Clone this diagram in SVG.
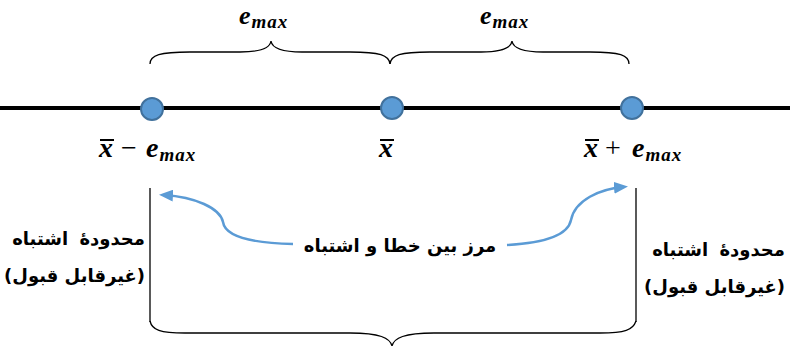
<svg xmlns="http://www.w3.org/2000/svg" width="790" height="346" viewBox="0 0 790 346">
<style>
.m{font-family:"Liberation Serif",serif;font-weight:bold;font-style:italic;fill:#000}
.op{font-family:"Liberation Serif",serif;fill:#000}
.fa{font-family:"DejaVu Sans",sans-serif;font-weight:bold;font-size:18px;fill:#000}
.br{fill:none;stroke:#000;stroke-width:1.3}
.dot{fill:#5B9BD5;stroke:#41719C;stroke-width:2}
.arr{fill:none;stroke:#5B9BD5;stroke-width:2.5}
</style>
<defs>
<marker id="ah" markerWidth="14" markerHeight="12" refX="9" refY="6" orient="auto" markerUnits="userSpaceOnUse" viewBox="0 0 14 12">
<path d="M0,0 L14,6 L0,12 z" fill="#5B9BD5"/>
</marker>
</defs>
<line x1="0" y1="108" x2="790" y2="108" stroke="#000" stroke-width="4"/>
<g id="braces">
<path class="br" d="M150,64 C150,55 160,52 190,52 L240,52 C262,52 270,48 271,41 C272,48 280,52 302,52 L350,52 C380,52 389,55 390,64"/>
<path class="br" d="M390,64 C391,55 400,52 430,52 L481,52 C503,52 511,48 512,41 C513,48 521,52 543,52 L590,52 C620,52 629,55 629,64"/>
<path class="br" d="M150,321 C152,330 160,333 185,333 L350,333 C380,333 390,338 392,346 C394,338 404,333 434,333 L600,333 C625,333 633,330 636,321"/>
<line class="br" x1="150" y1="188" x2="150" y2="322"/>
<line class="br" x1="636" y1="188" x2="636" y2="322"/>
</g>
<g id="n1"><circle class="dot" cx="152" cy="109" r="11"/></g>
<g id="n2"><circle class="dot" cx="392" cy="108" r="11"/></g>
<g id="n3"><circle class="dot" cx="632" cy="108" r="11"/></g>
<g id="emax1"><text class="m" x="239" y="24" font-size="26" letter-spacing="1">e<tspan font-size="19" dy="4">max</tspan></text></g>
<g id="emax2"><text class="m" x="480" y="24" font-size="26" letter-spacing="1">e<tspan font-size="19" dy="4">max</tspan></text></g>
<g id="lbl1">
<line x1="100" y1="140" x2="114" y2="140" stroke="#000" stroke-width="2"/>
<text class="m" x="99" y="157" font-size="28">x</text>
<text class="op" x="121" y="157" font-size="28">−</text>
<text class="m" x="146" y="157" font-size="28" letter-spacing="1">e<tspan font-size="19" dy="4">max</tspan></text>
</g>
<g id="lbl2">
<line x1="380" y1="140" x2="394" y2="140" stroke="#000" stroke-width="2"/>
<text class="m" x="379" y="157" font-size="28">x</text>
</g>
<g id="lbl3">
<line x1="585" y1="140" x2="599" y2="140" stroke="#000" stroke-width="2"/>
<text class="m" x="584" y="157" font-size="28">x</text>
<text class="op" x="605" y="157" font-size="28">+</text>
<text class="m" x="632" y="157" font-size="28" letter-spacing="1">e<tspan font-size="19" dy="4">max</tspan></text>
</g>
<g id="connectors">
<path class="arr" d="M293,244 C250,243 225,236 223,222 C220,208 195,197 164,195" marker-end="url(#ah)"/>
<path class="arr" d="M507,245 C545,243 568,235 571,220 C575,200 600,189 623,187" marker-end="url(#ah)"/>
</g>
<g id="center"><text class="fa" x="400" y="252" text-anchor="middle" direction="rtl" font-size="17.5">مرز بین خطا و اشتباه</text></g>
<g id="left">
<text class="fa" x="145" y="245" text-anchor="start" direction="rtl" word-spacing="5">محدودهٔ اشتباه</text>
<text class="fa" x="145" y="282" text-anchor="start" direction="rtl">(غیرقابل قبول)</text>
</g>
<g id="right">
<text class="fa" x="785" y="256" text-anchor="start" direction="rtl" word-spacing="5">محدودهٔ اشتباه</text>
<text class="fa" x="785" y="293" text-anchor="start" direction="rtl">(غیرقابل قبول)</text>
</g>
</svg>
